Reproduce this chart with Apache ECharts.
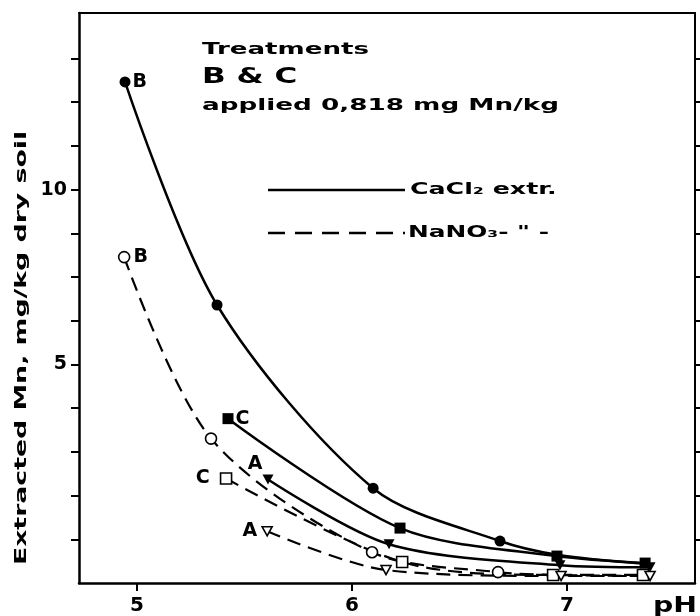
<!DOCTYPE html>
<html><head><meta charset="utf-8">
<script src="https://cdn.jsdelivr.net/npm/echarts@6/dist/echarts.min.js"></script>
<style>html,body{margin:0;padding:0;background:#fff}#c{width:700px;height:616px}</style>
</head><body><div id="c"></div>
<script>
// ---- data (pH vs extracted Mn) ----
const phCaB = [4.944, 5.372, 6.098, 6.688, 6.96, 7.36];
const mnCaB = [13.08, 6.70, 1.46, -0.05, -0.45, -0.70];
const phCaC = [5.423, 6.223, 6.953, 7.363];
const mnCaC = [3.45, 0.32, -0.48, -0.68];
const phCaA = [5.609, 6.172, 6.967, 7.386];
const mnCaA = [1.71, -0.14, -0.74, -0.80];
const phNaB = [4.940, 5.344, 6.093, 6.679, 6.96, 7.36];
const mnNaB = [8.07, 2.88, -0.37, -0.94, -1.02, -1.05];
const phNaC = [5.414, 6.233, 6.935, 7.353];
const mnNaC = [1.74, -0.65, -1.02, -1.02];
const phNaA = [5.605, 6.158, 6.972, 7.386];
const mnNaA = [0.23, -0.88, -1.05, -1.05];
const markedB = 4; // measured points on the B curves (rest: curve only)
const xTickValues = [5, 6, 7];
const yTickValues = [0, 1.25, 2.5, 3.75, 5, 6.25, 7.5, 8.75, 10, 11.25, 12.5, 13.75];
const yTickLabels = [5, 10];
const textYTitle = 'Extracted Mn, mg/kg dry soil';
const textXTitle = 'pH';
const textTreat = ['Treatments', 'B & C', 'applied 0,818 mg Mn/kg'];
const legendTexts = ['CaCl\u2082 extr.', 'NaNO\u2083- " -'];

const FONT = '"DejaVu Sans", sans-serif';
const lbl = {fontFamily: FONT, fontWeight: 'bold', fontSize: 19, color: '#000'};

function mk(name, ph, mn, opts) {
  const data = ph.map((p, i) => {
    const d = {value: [p, mn[i]]};
    if (opts.marked !== undefined && i >= opts.marked) d.symbol = 'none';
    if (i === 0) d.label = Object.assign({show: true, formatter: opts.letter}, lbl, opts.labelPos);
    return d;
  });
  return {
    type: 'line', name, data,
    smooth: 0.3,
    symbol: opts.symbol, symbolSize: opts.size, symbolRotate: opts.rotate || 0,
    showAllSymbol: true,
    itemStyle: opts.open ? {color: '#fff', borderColor: '#000', borderWidth: 1.6} : {color: '#000', borderColor: '#000', borderWidth: 0},
    lineStyle: {color: '#000', width: opts.dashed ? 2.2 : 2.5, type: opts.dashed ? [14, 8] : 'solid'},
    emphasis: {disabled: true},
    z: opts.open ? 3 : 4
  };
}

const chart = echarts.init(document.getElementById('c'), null, {renderer: 'canvas'});
chart.setOption({
  animation: false,
  backgroundColor: '#fff',
  grid: {left: 79, right: 5, top: 13, bottom: 31},
  xAxis: [{
    type: 'value', min: 4.73, max: 7.595, position: 'bottom',
    axisLine: {onZero: false, lineStyle: {color: '#000', width: 2.5}},
    axisTick: {show: true, customValues: xTickValues, length: 8, inside: false, lineStyle: {color: '#000', width: 2}},
    axisLabel: {customValues: xTickValues, margin: 13, fontFamily: FONT, fontWeight: 'bold', fontSize: 20, color: '#000'},
    splitLine: {show: false}
  }, {
    type: 'value', min: 4.73, max: 7.595, position: 'top',
    axisLine: {show: true, onZero: false, lineStyle: {color: '#000', width: 2}},
    axisTick: {show: false}, axisLabel: {show: false}, splitLine: {show: false}
  }],
  yAxis: [{
    type: 'value', min: -1.25, max: 15.05, position: 'left',
    axisLine: {show: true, onZero: false, lineStyle: {color: '#000', width: 2.5}},
    axisTick: {show: true, customValues: yTickValues, length: 8, inside: false, lineStyle: {color: '#000', width: 2}},
    axisLabel: {customValues: yTickLabels, margin: 12, fontFamily: FONT, fontWeight: 'bold', fontSize: 19, color: '#000'},
    splitLine: {show: false}
  }, {
    type: 'value', min: -1.25, max: 15.05, position: 'right',
    axisLine: {show: true, onZero: false, lineStyle: {color: '#000', width: 2}},
    axisTick: {show: true, customValues: yTickValues, length: 6, inside: false, lineStyle: {color: '#000', width: 2}},
    axisLabel: {show: false}, splitLine: {show: false}
  }],
  series: [
    mk('CaCl2 B', phCaB, mnCaB, {symbol: 'circle', size: 11, letter: 'B', marked: markedB, labelPos: {position: 'right', distance: 2}}),
    mk('CaCl2 C', phCaC, mnCaC, {symbol: 'rect', size: 11, letter: 'C', labelPos: {position: 'right', distance: 2}}),
    mk('CaCl2 A', phCaA, mnCaA, {symbol: 'triangle', size: [11, 10], rotate: 180, letter: 'A', labelPos: {position: 'top', distance: 1, offset: [-13, 0]}}),
    mk('NaNO3 B', phNaB, mnNaB, {symbol: 'circle', size: 11, open: true, dashed: true, letter: 'B', marked: markedB, labelPos: {position: 'right', distance: 3}}),
    mk('NaNO3 C', phNaC, mnNaC, {symbol: 'rect', size: 11, open: true, dashed: true, letter: 'C', labelPos: {position: 'left', distance: 10}}),
    mk('NaNO3 A', phNaA, mnNaA, {symbol: 'triangle', size: [10, 9], rotate: 180, open: true, dashed: true, letter: 'A', labelPos: {position: 'left', distance: 4}})
  ],
  graphic: [
    {type: 'text', x: 22, y: 348, rotation: Math.PI / 2, scaleX: 1.67,
      style: {text: textYTitle, font: 'bold 16px ' + FONT, fill: '#000', align: 'center', verticalAlign: 'middle', textAlign: 'center', textVerticalAlign: 'middle'}},
    {type: 'text', x: 653, y: 596, scaleX: 1.35,
      style: {text: textXTitle, font: 'bold 21px ' + FONT, fill: '#000', align: 'left', verticalAlign: 'top', textAlign: 'left', textVerticalAlign: 'top'}},
    {type: 'text', x: 202, y: 50, scaleX: 1.63,
      style: {text: textTreat[0], font: 'bold 16px ' + FONT, fill: '#000', align: 'left', verticalAlign: 'middle', textAlign: 'left', textVerticalAlign: 'middle'}},
    {type: 'text', x: 202, y: 78, scaleX: 1.48,
      style: {text: textTreat[1], font: 'bold 21px ' + FONT, fill: '#000', align: 'left', verticalAlign: 'middle', textAlign: 'left', textVerticalAlign: 'middle'}},
    {type: 'text', x: 202, y: 106, scaleX: 1.64,
      style: {text: textTreat[2], font: 'bold 16px ' + FONT, fill: '#000', align: 'left', verticalAlign: 'middle', textAlign: 'left', textVerticalAlign: 'middle'}},
    {type: 'line', shape: {x1: 268, y1: 190, x2: 405, y2: 190}, style: {stroke: '#000', lineWidth: 2.5}},
    {type: 'line', shape: {x1: 268, y1: 233, x2: 405, y2: 233}, style: {stroke: '#000', lineWidth: 2.5, lineDash: [17, 10]}},
    {type: 'text', x: 410, y: 190, scaleX: 1.58,
      style: {text: legendTexts[0], font: 'bold 16px ' + FONT, fill: '#000', align: 'left', verticalAlign: 'middle', textAlign: 'left', textVerticalAlign: 'middle'}},
    {type: 'text', x: 408, y: 233, scaleX: 1.55,
      style: {text: legendTexts[1], font: 'bold 16px ' + FONT, fill: '#000', align: 'left', verticalAlign: 'middle', textAlign: 'left', textVerticalAlign: 'middle'}}
  ]
});
</script></body></html>
